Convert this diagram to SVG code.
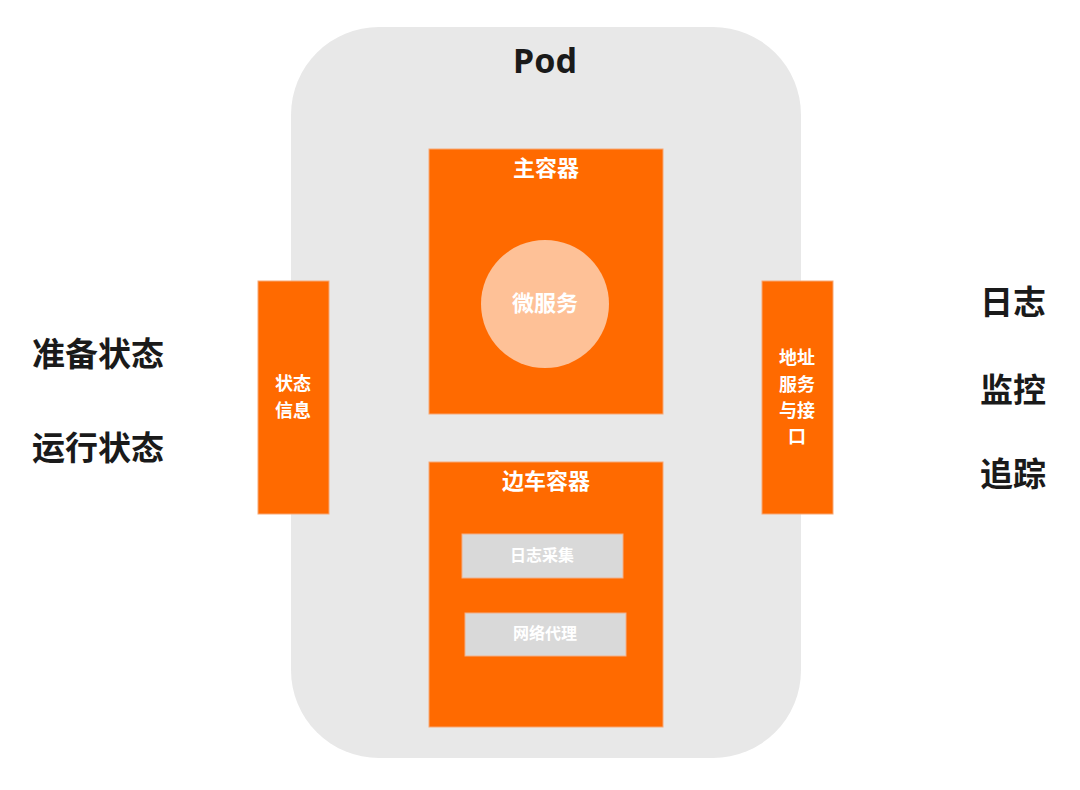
<svg xmlns="http://www.w3.org/2000/svg" width="1080" height="790" viewBox="0 0 1080 790">
<style>
.cjk{font-family:"Noto Sans CJK SC","Noto Sans",sans-serif;text-anchor:middle;dominant-baseline:central}
.or{fill:#FF6A00;stroke:#F7A774;stroke-width:1}
.w{fill:#FFFFFF;font-weight:bold}
.dark{fill:#1A1A1A;font-weight:bold;font-size:33px}
.box{fill:#D9D9D9;stroke:#F2B08A;stroke-width:1}
</style>
<rect width="1080" height="790" fill="#FFFFFF"/>
<g id="pod">
<rect x="291" y="27" width="510" height="731" rx="88" ry="88" fill="#E8E8E8"/>
<text x="545" y="73" font-family="'Noto Sans','Open Sans',sans-serif" font-weight="bold" font-size="34" fill="#1A1A1A" text-anchor="middle">Pod</text>
</g>
<g id="main-container">
<rect class="or" x="429" y="149" width="234" height="265"/>
<text class="cjk w" x="546" y="166" font-size="22">主容器</text>
</g>
<g id="microservice">
<circle cx="545" cy="304" r="64" fill="#FEC197"/>
<text class="cjk w" x="545" y="301" font-size="22">微服务</text>
</g>
<g id="sidecar-container">
<rect class="or" x="429" y="462" width="234" height="265"/>
<text class="cjk w" x="546" y="479" font-size="22">边车容器</text>
</g>
<g id="log-collect">
<rect class="box" x="462" y="534" width="161" height="44"/>
<text class="cjk w" x="542" y="554" font-size="16">日志采集</text>
</g>
<g id="net-proxy">
<rect class="box" x="465" y="613" width="161" height="43"/>
<text class="cjk w" x="545" y="632" font-size="16">网络代理</text>
</g>
<g id="status-info">
<rect class="or" x="258" y="281" width="71" height="233"/>
<text class="cjk w" x="293" y="382" font-size="18">状态</text>
<text class="cjk w" x="293" y="409" font-size="18">信息</text>
</g>
<g id="addr-service">
<rect class="or" x="762" y="281" width="71" height="233"/>
<text class="cjk w" x="797" y="356" font-size="18">地址</text>
<text class="cjk w" x="797" y="383" font-size="18">服务</text>
<text class="cjk w" x="797" y="409" font-size="18">与接</text>
<text class="cjk w" x="797" y="435" font-size="18">口</text>
</g>
<g id="left-labels">
<text class="cjk dark" x="98" y="352">准备状态</text>
<text class="cjk dark" x="98" y="446">运行状态</text>
</g>
<g id="right-labels">
<text class="cjk dark" x="1013" y="300">日志</text>
<text class="cjk dark" x="1013" y="388">监控</text>
<text class="cjk dark" x="1013" y="472">追踪</text>
</g>
<g id="connectors"></g>
</svg>
